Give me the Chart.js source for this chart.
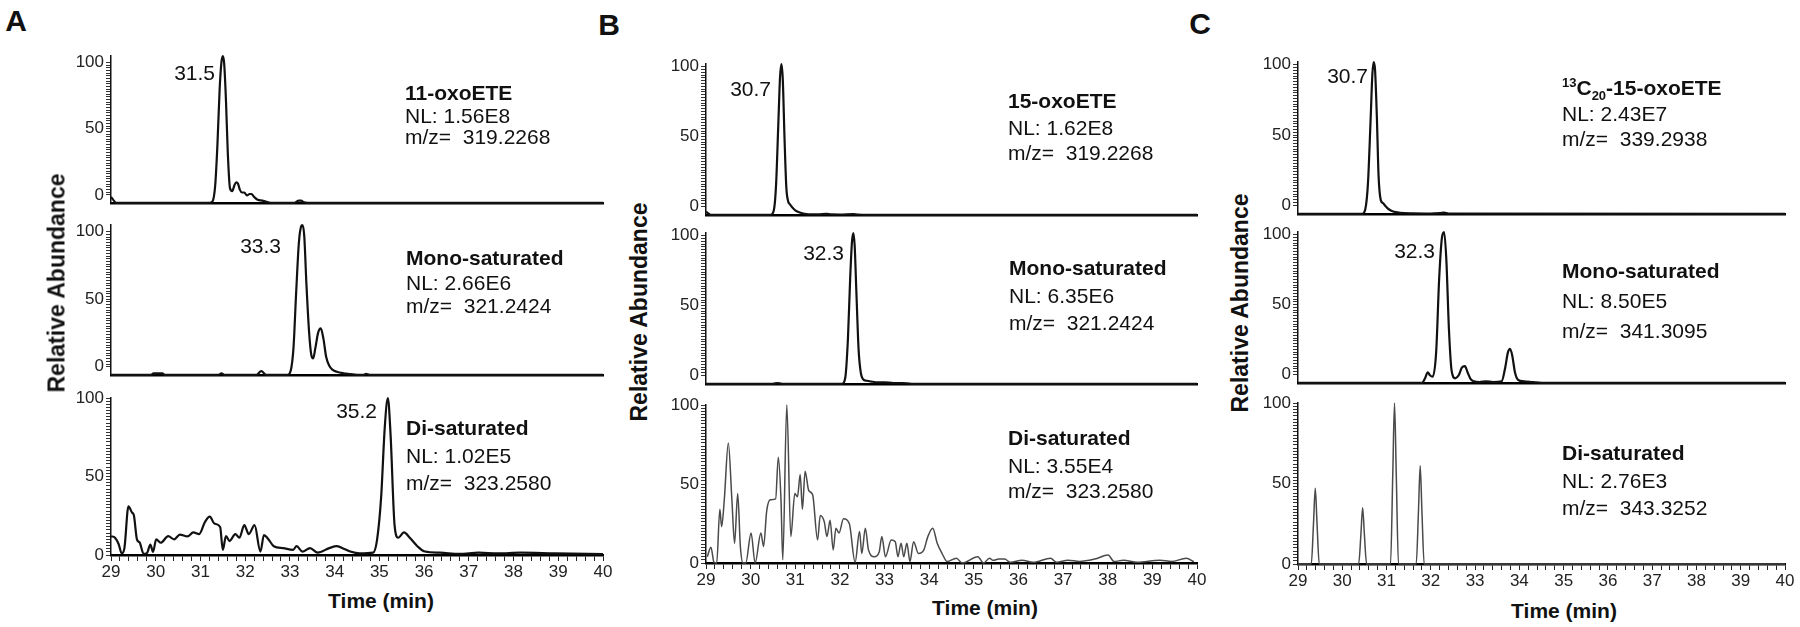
<!DOCTYPE html>
<html>
<head>
<meta charset="utf-8">
<script src="https://cdn.jsdelivr.net/npm/chart.js@4.4.1/dist/chart.umd.min.js"></script>
<style>
  body { margin: 0; background: #fff; }
  #fig { position: relative; width: 1800px; height: 627px; overflow: hidden;
         font-family: "Liberation Sans", Arial, sans-serif; color: #111; }
  canvas { position: absolute; }
  .t { position: absolute; white-space: pre; line-height: 1; }
  .info { font-size: 21px; transform: translateY(-50%); }
  .info b { font-weight: bold; }
  .info sup, .info sub { font-size: 13px; line-height: 0; }
  .peak { font-size: 21px; transform: translate(-100%, -50%); }
  .letter { font-size: 30px; font-weight: bold; transform: translate(-50%, -50%); }
  .xt { font-size: 21px; font-weight: bold; transform: translate(-50%, -50%); }
  .yt { font-size: 23px; font-weight: bold; transform: translate(-50%, -50%) rotate(-90deg); }
</style>
</head>
<body>
<div id="fig"></div>
<script>
// ---- data: retention time (min) and relative abundance (%) ----
// panel A
const a1Time  = [29.0, 29.05, 29.12, 29.5, 30.5, 31.2, 31.27, 31.33, 31.38, 31.43, 31.47, 31.5, 31.53, 31.57, 31.61, 31.66, 31.71, 31.76, 31.8, 31.84, 31.88, 31.93, 31.98, 32.04, 32.1, 32.14, 32.2, 32.28, 32.38, 32.5, 32.6, 33.1, 33.2, 33.25, 33.3, 33.4, 34, 36, 38, 40];
const a1Abund = [4, 2, 0, 0, 0, 0, 1, 12, 40, 78, 96, 100, 95, 70, 35, 10, 8, 12, 14, 13, 9, 7, 7, 5, 6, 6, 4, 2, 1.5, 0.5, 0, 0, 1.5, 1.5, 0.5, 0, 0, 0, 0, 0];
const a2Time  = [29, 29.9, 29.95, 30.05, 30.15, 30.2, 31.4, 31.47, 31.54, 32.25, 32.36, 32.47, 32.95, 33.02, 33.08, 33.14, 33.2, 33.25, 33.28, 33.32, 33.37, 33.43, 33.48, 33.52, 33.57, 33.63, 33.69, 33.75, 33.81, 33.88, 33.95, 34.05, 34.2, 34.35, 34.5, 34.65, 34.7, 34.78, 35, 40];
const a2Abund = [0, 0, 1, 1, 1, 0, 0, 1, 0, 0, 2.5, 0, 0, 3, 18, 55, 88, 99, 100, 93, 60, 28, 13, 11, 18, 28, 31, 24, 12, 6, 3.5, 2, 1, 0.5, 0, 0, 0.7, 0, 0, 0];
const a3Time  = [29.0, 29.09, 29.17, 29.24, 29.3, 29.39, 29.47, 29.51, 29.58, 29.64, 29.73, 29.81, 29.88, 29.94, 30.01, 30.11, 30.28, 30.41, 30.54, 30.71, 30.84, 30.97, 31.1, 31.21, 31.31, 31.44, 31.5, 31.57, 31.65, 31.78, 31.87, 31.98, 32.08, 32.21, 32.34, 32.42, 32.51, 32.64, 32.85, 33.07, 33.15, 33.28, 33.45, 33.62, 33.88, 34.05, 34.22, 34.35, 34.56, 34.86, 34.95, 35.04, 35.12, 35.19, 35.25, 35.34, 35.42, 35.55, 35.68, 35.85, 36.02, 36.36, 36.79, 37.22, 37.65, 38.16, 38.93, 40];
const a3Abund = [12, 11, 7, 1, 4.4, 31, 27, 25.5, 10, 8, 0.7, 1.5, 6.7, 2, 10, 7.8, 12, 10, 13, 11.8, 14.4, 13.3, 21, 24.4, 20, 17.8, 3.3, 12, 8.9, 13.3, 11, 19, 13.3, 19, 2.2, 12.7, 10.4, 5.6, 4.4, 3.3, 5.6, 2.2, 4.4, 1.5, 4.4, 5.6, 3.8, 2.2, 1, 1.5, 10, 37, 81, 100, 77, 19, 11, 14.4, 11, 5.6, 2.2, 1.5, 0.7, 1.5, 1, 1.5, 1, 0.5];
// panel B
const b1Time  = [29, 29.05, 29.1, 30.45, 30.52, 30.57, 30.62, 30.66, 30.69, 30.72, 30.76, 30.8, 30.84, 30.88, 30.93, 31.0, 31.1, 31.25, 31.5, 31.7, 31.8, 32.0, 32.3, 32.4, 32.6, 40];
const b1Abund = [2, 1, 0, 0, 3, 20, 60, 92, 100, 90, 50, 18, 9, 7, 5, 3, 1.5, 0.5, 0.3, 0.6, 0.3, 0.2, 0.5, 0.2, 0, 0];
const b2Time  = [29, 30.5, 30.6, 30.7, 32.05, 32.12, 32.18, 32.23, 32.27, 32.3, 32.33, 32.37, 32.42, 32.47, 32.52, 32.6, 32.7, 32.85, 33.0, 33.2, 33.4, 33.6, 40];
const b2Abund = [0, 0, 0.5, 0, 0, 4, 30, 70, 94, 100, 92, 60, 22, 7, 3, 2, 1.5, 1, 1, 0.5, 0.5, 0, 0];
const b3Time  = [29.03, 29.11, 29.18, 29.24, 29.31, 29.35, 29.41, 29.5, 29.58, 29.64, 29.71, 29.77, 29.83, 29.89, 30.01, 30.1, 30.23, 30.29, 30.36, 30.44, 30.56, 30.62, 30.68, 30.72, 30.81, 30.9, 30.99, 31.05, 31.11, 31.16, 31.22, 31.3, 31.39, 31.5, 31.56, 31.65, 31.71, 31.78, 31.85, 31.91, 31.98, 32.08, 32.21, 32.34, 32.44, 32.49, 32.57, 32.64, 32.77, 32.88, 32.94, 33.02, 33.15, 33.24, 33.3, 33.37, 33.43, 33.5, 33.57, 33.65, 33.76, 33.88, 33.97, 34.08, 34.18, 34.29, 34.4, 34.61, 34.74, 35.09, 35.22, 35.35, 35.43, 35.56, 35.69, 35.82, 36.08, 36.33, 36.72, 36.85, 37.11, 37.37, 37.71, 38.01, 38.14, 38.35, 38.66, 39.17, 39.43, 39.76, 39.93];
const b3Abund = [4, 10, 0.4, 0, 34, 23, 40, 76, 40, 12.5, 44, 10.4, 0, 0, 19, 0, 19, 10.4, 33, 40, 40.6, 67, 40, 2, 100, 16.7, 44, 42, 56, 34, 58, 46, 43, 14.6, 30, 26, 16.7, 27, 8.3, 22, 19, 28, 25, 0.4, 20, 6, 22, 8.3, 4, 7, 16.7, 4, 14.6, 13.5, 4, 12.5, 4, 12.5, 1, 13.5, 6, 8.3, 16.7, 22, 12.5, 6, 1, 3, 0, 4, 0, 3, 1.7, 2.5, 2.5, 0.4, 1.7, 0.4, 3, 0.4, 1.7, 1, 2.5, 5, 1, 1.7, 0.4, 1.7, 1, 3, 0.8];
// panel C
const c1Time  = [29, 30.45, 30.52, 30.58, 30.64, 30.68, 30.71, 30.74, 30.78, 30.82, 30.87, 30.92, 30.98, 31.05, 31.15, 31.3, 31.6, 32.0, 32.2, 32.3, 32.4, 40];
const c1Abund = [0, 0, 3, 20, 62, 92, 100, 95, 65, 25, 9, 7, 5, 3, 1.5, 0.7, 0.3, 0.2, 0.5, 0.8, 0.2, 0];
const c2Time  = [29, 31.8, 31.87, 31.93, 31.98, 32.04, 32.12, 32.19, 32.25, 32.3, 32.35, 32.41, 32.47, 32.55, 32.63, 32.7, 32.77, 32.83, 32.9, 32.97, 33.1, 33.25, 33.4, 33.6, 33.68, 33.74, 33.79, 33.84, 33.9, 33.97, 34.1, 34.3, 34.5, 40];
const c2Abund = [0, 0, 3, 7, 5, 4, 20, 70, 96, 100, 82, 35, 8, 3, 5, 10, 11, 7, 2.5, 1, 0.5, 1, 0.5, 1, 10, 20, 22.5, 18, 7, 2, 1, 0.5, 0, 0];
const c3Time  = [29, 29.3, 29.35, 29.39, 29.43, 29.48, 30.37, 30.42, 30.46, 30.5, 30.55, 31.09, 31.14, 31.18, 31.22, 31.27, 31.67, 31.72, 31.76, 31.8, 31.85, 40];
const c3Abund = [0, 0, 25, 47, 25, 0, 0, 18, 35, 18, 0, 0, 55, 100, 55, 0, 0, 32, 61, 32, 0, 0];

const timeMin = 29, timeMax = 40;
const yTickLabels = [0, 50, 100];

// ---- layout ----
const Y_W = 44, PAD_T = 14, PAD_R = 14, PAD_B = 4, X_H = 28;
const panels = [
  { axisX: 111, right: 603, rows: [[56, 211], [225, 383], [398, 555]], labelMax: 105,
    traces: [[a1Time, a1Abund], [a2Time, a2Abund], [a3Time, a3Abund]] },
  { axisX: 706, right: 1197, rows: [[64, 223], [233, 392], [405, 563]], labelMax: 102,
    traces: [[b1Time, b1Abund], [b2Time, b2Abund], [b3Time, b3Abund]] },
  { axisX: 1298, right: 1785, rows: [[62, 222], [232, 391], [403, 564]], labelMax: 102,
    traces: [[c1Time, c1Abund], [c2Time, c2Abund], [c3Time, c3Abund]] }
];
const thinTraces = [b3Time, c3Time];

// narrow font for the tick numbers if it is there
const probe = document.createElement('canvas').getContext('2d');
probe.font = '40px "Liberation Sans Narrow", monospace';
const wNarrow = probe.measureText('0123456789').width;
probe.font = '40px monospace';
const narrow = Math.abs(wNarrow - probe.measureText('0123456789').width) > 1;
Chart.defaults.font.family = narrow ? '"Liberation Sans Narrow", "Liberation Sans", Arial, sans-serif'
                                    : '"Liberation Sans", Arial, sans-serif';
const tickSize = narrow ? 20 : 17;

const fig = document.getElementById('fig');

function drawTrace(panel, row) {
  const [times, abund] = panel.traces[row];
  const [top, bottom] = panel.rows[row];
  const last = row === 2;
  const plotW = panel.right - panel.axisX;
  const plotH = bottom - top;
  const w = Y_W + plotW + PAD_R;
  const h = PAD_T + plotH + (last ? X_H : PAD_B);
  const cv = document.createElement('canvas');
  cv.width = w; cv.height = h;
  cv.style.left = (panel.axisX - Y_W) + 'px';
  cv.style.top = (top - PAD_T) + 'px';
  cv.style.width = w + 'px'; cv.style.height = h + 'px';
  fig.appendChild(cv);

  const thin = thinTraces.includes(times);

  new Chart(cv, {
    type: 'line',
    data: {
      datasets: [{
        data: times.map((t, i) => ({ x: t, y: abund[i] })),
        borderColor: thin ? '#4a4a4a' : '#111',
        borderWidth: thin ? 1.5 : 2.2,
        pointRadius: 0,
        cubicInterpolationMode: 'monotone',
        clip: 6,
        yAxisID: 'y'
      }]
    },
    options: {
      responsive: false,
      animation: false,
      devicePixelRatio: 1,
      layout: { padding: { top: PAD_T, right: PAD_R, bottom: last ? 0 : PAD_B, left: 0 } },
      plugins: { legend: { display: false }, tooltip: { enabled: false } },
      scales: {
        x: {
          type: 'linear', min: timeMin, max: timeMax,
          grid: last ? { drawOnChartArea: false, tickLength: 6, color: '#222' } : { display: false },
          border: { display: true, color: '#000', width: 2.5 },
          ticks: {
            display: last, stepSize: 0.2, autoSkip: false, maxRotation: 0, padding: 1,
            color: '#222', font: { size: tickSize },
            callback: v => Math.abs(v - Math.round(v)) < 1e-6 ? String(Math.round(v)) : ''
          },
          afterFit: s => { s.height = last ? X_H : 0; }
        },
        y: { type: 'linear', min: 0, max: 100, display: false },
        yl: {
          type: 'linear', position: 'left',
          min: last ? 0 : -6, max: last ? 100 : panel.labelMax,
          grid: { drawOnChartArea: false, tickLength: 5, color: '#333' },
          border: { display: true, color: '#111', width: 1.5 },
          ticks: {
            stepSize: 2, autoSkip: false, padding: 2, color: '#222', font: { size: tickSize },
            callback: v => yTickLabels.includes(v) ? String(v) : ''
          },
          afterBuildTicks: s => { s.ticks = s.ticks.filter(t => t.value >= 0 && t.value <= 100); },
          afterFit: s => { s.width = Y_W; }
        }
      }
    }
  });
}

panels.forEach(p => [0, 1, 2].forEach(r => drawTrace(p, r)));

// ---- text ----
function addText(html, x, y, cls) {
  const d = document.createElement('div');
  d.className = 't ' + cls;
  d.innerHTML = html;
  d.style.left = x + 'px';
  d.style.top = y + 'px';
  fig.appendChild(d);
}

const panelLetters = [['A', 16, 21], ['B', 609, 25], ['C', 1200, 24]];
panelLetters.forEach(([s, x, y]) => addText(s, x, y, 'letter'));

const yTitles = [[57, 283], [639, 312], [1240, 303]];
yTitles.forEach(([x, y]) => addText('Relative Abundance', x, y, 'yt'));

const xTitles = [[381, 600], [985, 607], [1564, 610]];
xTitles.forEach(([x, y]) => addText('Time (min)', x, y, 'xt'));

const peakLabels = [
  ['31.5', 215, 72], ['33.3', 281, 245], ['35.2', 377, 410],
  ['30.7', 771, 88], ['32.3', 844, 252],
  ['30.7', 1368, 75], ['32.3', 1435, 250]
];
peakLabels.forEach(([s, x, y]) => addText(s, x, y, 'peak'));

const infoBlocks = [
  [405, [92, 115, 136], ['<b>11-oxoETE</b>', 'NL: 1.56E8', 'm/z=  319.2268']],
  [406, [257, 282, 305], ['<b>Mono-saturated</b>', 'NL: 2.66E6', 'm/z=  321.2424']],
  [406, [427, 455, 482], ['<b>Di-saturated</b>', 'NL: 1.02E5', 'm/z=  323.2580']],
  [1008, [100, 127, 152], ['<b>15-oxoETE</b>', 'NL: 1.62E8', 'm/z=  319.2268']],
  [1009, [267, 295, 322], ['<b>Mono-saturated</b>', 'NL: 6.35E6', 'm/z=  321.2424']],
  [1008, [437, 465, 490], ['<b>Di-saturated</b>', 'NL: 3.55E4', 'm/z=  323.2580']],
  [1562, [87, 113, 138], ['<b><sup>13</sup>C<sub>20</sub>-15-oxoETE</b>', 'NL: 2.43E7', 'm/z=  339.2938']],
  [1562, [270, 300, 330], ['<b>Mono-saturated</b>', 'NL: 8.50E5', 'm/z=  341.3095']],
  [1562, [452, 480, 507], ['<b>Di-saturated</b>', 'NL: 2.76E3', 'm/z=  343.3252']]
];
infoBlocks.forEach(([x, ys, lines]) => lines.forEach((s, i) => addText(s, x, ys[i], 'info')));
</script>
</body>
</html>
